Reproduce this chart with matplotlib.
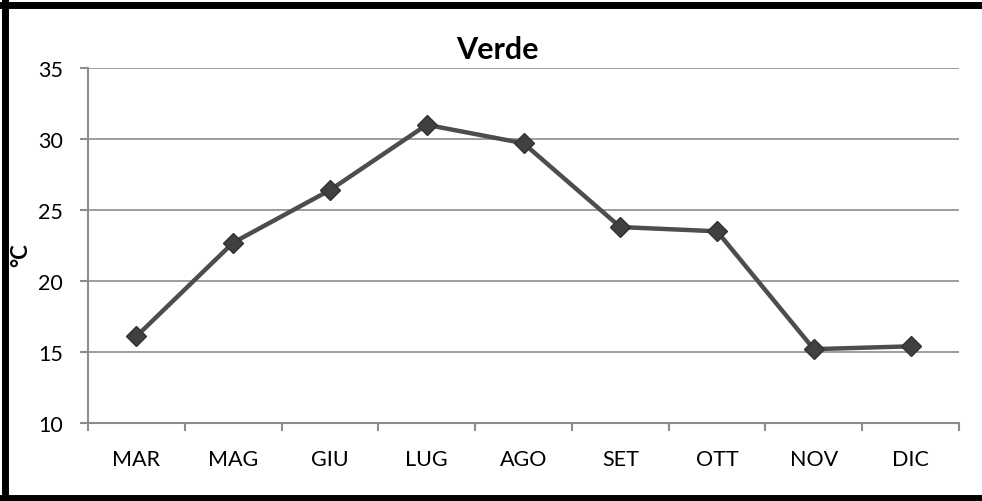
import matplotlib.pyplot as plt
from matplotlib.lines import Line2D
import numpy as np

months = ["MAR", "MAG", "GIU", "LUG", "AGO", "SET", "OTT", "NOV", "DIC"]
temps = [16.1, 22.7, 26.4, 31.0, 29.7, 23.8, 23.5, 15.2, 15.4]
yticks = [10, 15, 20, 25, 30, 35]

plt.rcParams['font.family'] = ['Lato', 'DejaVu Sans']

fig = plt.figure(figsize=(9.82, 5.02), dpi=100)
ax = fig.add_axes([88 / 982, 78 / 502, 871 / 982, 355 / 502])

x = np.arange(len(months))
ax.plot(x, temps, color='#4d4d4d', linewidth=3.2, marker='D', markersize=10,
        markerfacecolor='#404040', markeredgecolor='#333333', zorder=3)

ax.set_xlim(-0.5, len(months) - 0.5)
ax.set_ylim(10, 35)
ax.set_yticks(yticks)
ax.set_yticklabels([str(v) for v in yticks], fontsize=15.5)
ax.set_xticks(x)
ax.set_xticklabels(months, fontsize=15.5)
ax.set_xticks(np.arange(-0.5, len(months)), minor=True)
ax.tick_params(axis='x', which='major', length=0, pad=19)
ax.tick_params(axis='x', which='minor', length=6, width=1.5, color='#8c8c8c')
ax.tick_params(axis='y', length=6, width=1.5, color='#8c8c8c', pad=12)

ax.grid(True, axis='y', color='#8c8c8c', linewidth=1.2)
ax.set_axisbelow(True)
for side in ['top', 'right']:
    ax.spines[side].set_visible(False)
for side in ['left', 'bottom']:
    ax.spines[side].set_color('#8c8c8c')
    ax.spines[side].set_linewidth(1.5)

fig.text(497 / 982, 1 - 50 / 502, "Verde", fontsize=22, fontweight='bold',
         ha='center', va='center')
fig.text(21 / 982, 1 - 255 / 502, "°C", fontsize=16, fontweight='bold',
         rotation=90, ha='center', va='center')

# chart frame (left, top, bottom edges)
lw = 5
fig.add_artist(Line2D([5 / 982, 5 / 982], [0, 1], color='black', linewidth=lw, transform=fig.transFigure))
fig.add_artist(Line2D([0, 1], [1 - 5.5 / 502, 1 - 5.5 / 502], color='black', linewidth=lw, transform=fig.transFigure))
fig.add_artist(Line2D([0, 1], [3 / 502, 3 / 502], color='black', linewidth=lw, transform=fig.transFigure))

fig.savefig("out.png", dpi=100)
